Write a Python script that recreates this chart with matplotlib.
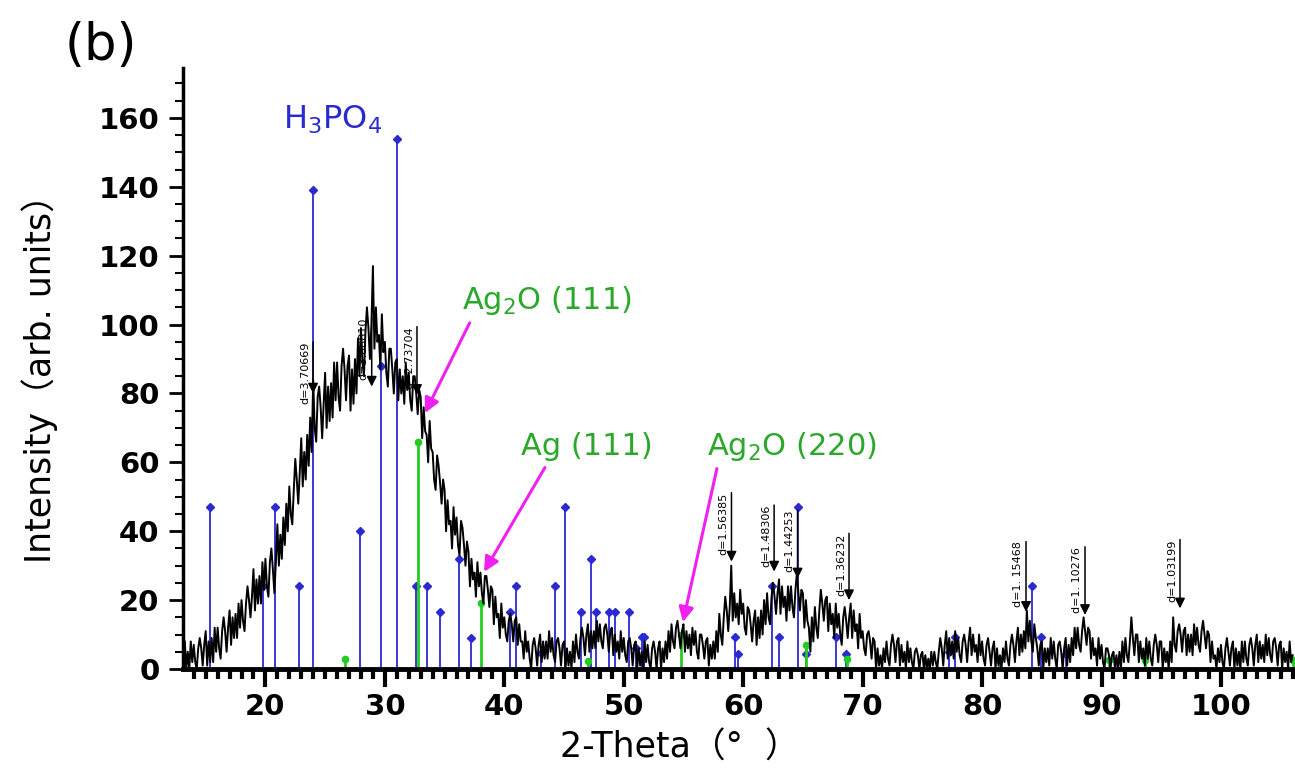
import matplotlib
matplotlib.use('Agg')
import matplotlib.pyplot as plt
import numpy as np
from matplotlib.ticker import MultipleLocator

# ---------------- data ----------------
theta_start = 13.25
theta_step = 0.125
intensity = [
    8, 0,
    5, 0, 8, 2,   7, 2, 0, 6,   9, 6, 1, 7,          # 13.5 - 14.5
    11, 1, 8, 2,  9, 2, 12, 5,                       # 15
    12, 6, 3, 11, 15, 11, 5, 12,                     # 16
    17, 7, 15, 9, 16, 9, 19, 12,                     # 17
    20, 14, 11, 19, 24, 20, 15, 21,                  # 18
    29, 17, 26, 19, 27, 19, 31, 23,                  # 19
    32, 24, 21, 31, 35, 29, 22, 31,                  # 20
    42, 30, 39, 32, 44, 36, 48, 40,                  # 21
    53, 45, 42, 52, 61, 55, 48, 57,                  # 22
    67, 53, 63, 55, 68, 59, 73, 63,                  # 23
    84, 70, 66, 79, 82, 76, 67, 77,                  # 24
    86, 70, 82, 72, 83, 73, 89, 78,                  # 25
    89, 79, 75, 88, 93, 87, 78, 88,                  # 26
    91, 75, 87, 77, 90, 80, 96, 85,                  # 27
    99, 89, 85, 98, 105, 99, 90, 100,                # 28
    117, 93, 105, 95, 97, 87, 103, 92,               # 29
    95, 86, 82, 93, 93, 87, 80, 89,                  # 30
    90, 78, 87, 80, 85, 77, 89, 81,                  # 31
    86, 78, 75, 85, 85, 80, 74, 81,                  # 32
    79, 67, 76, 69, 68, 60, 72, 64,                  # 33
    63, 55, 52, 62, 59, 54, 48, 55,                  # 34
    52, 40, 49, 42, 43, 35, 47, 39,                  # 35
    44, 36, 33, 43, 41, 36, 30, 37,                  # 36
    34, 24, 32, 26, 28, 21, 31, 24,                  # 37
    28, 22, 19, 27, 27, 23, 18, 24,                  # 38
    23, 13, 21, 15, 16, 9, 19, 12,                   # 39
    15, 10, 8, 14, 16, 13, 8, 14,                    # 40
    15, 7, 13, 8, 8, 3, 11, 5,                       # 41
    8, 3, 0, 7, 9, 6, 1, 7,                          # 42
    10, 2, 8, 3, 8, 3, 11, 5,                        # 43
    9, 4, 2, 8, 9, 6, 1, 7,                          # 44
    8, 0, 6, 1, 5, 0, 8, 2,                          # 45
    10, 5, 3, 9, 12, 9, 4, 10,                       # 46
    13, 5, 11, 6, 11, 6, 14, 8,                      # 47
    13, 8, 6, 12, 13, 10, 5, 11,                     # 48
    12, 4, 10, 5, 8, 3, 11, 5,                       # 49
    9, 4, 2, 8, 9, 6, 1, 7,                          # 50
    8, 0, 6, 1, 5, 0, 8, 2,                          # 51
    7, 2, 0, 6, 8, 5, 0, 6,                          # 52
    8, 0, 6, 2, 8, 3, 11, 5,                         # 53
    13, 8, 6, 12, 14, 10, 6, 11,                     # 54
    13, 5, 11, 6, 10, 4, 12, 7,                      # 55
    11, 5, 3, 10, 10, 7, 3, 8,                       # 56
    9, 1, 7, 3, 8, 3, 11, 5,                         # 57
    16, 10, 7, 15, 21, 17, 11, 18,                   # 58
    30, 14, 22, 15, 19, 13, 23, 16,                  # 59
    19, 12, 10, 18, 17, 13, 8, 14,                   # 60
    17, 7, 15, 9, 17, 10, 20, 13,                    # 61
    22, 15, 13, 21, 25, 21, 16, 22,                  # 62
    26, 16, 24, 18, 21, 14, 24, 17,                  # 63
    24, 18, 15, 23, 28, 22, 17, 23,                  # 64
    22, 12, 20, 14, 12, 5, 15, 8,                    # 65
    18, 12, 9, 17, 23, 19, 14, 20,                   # 66
    21, 11, 19, 13, 16, 9, 19, 12,                   # 67
    16, 10, 7, 15, 18, 14, 9, 15,                    # 68
    19, 9, 17, 11, 13, 6, 16, 9,                     # 69
    11, 6, 4, 10, 11, 8, 3, 9,                       # 70
    8, 0, 6, 1, 4, 0, 6, 2,                          # 71
    8, 3, 1, 7, 10, 7, 2, 8,                         # 72
    9, 1, 7, 2, 5, 0, 8, 2,                          # 73
    6, 2, 0, 5, 6, 4, 0, 4,                          # 74
    5, 0, 4, 0, 3, 0, 5, 1,                          # 75
    5, 2, 0, 5, 9, 6, 1, 7,                          # 76
    11, 3, 9, 4, 8, 3, 11, 5,                        # 77
    9, 4, 2, 8, 10, 7, 2, 8,                         # 78
    12, 4, 10, 5, 7, 2, 10, 4,                       # 79
    8, 3, 1, 7, 9, 5, 1, 6,                          # 80
    8, 0, 6, 1, 4, 0, 6, 2,                          # 81
    8, 3, 1, 7, 10, 7, 2, 8,                         # 82
    12, 4, 10, 5, 11, 6, 17, 8,                      # 83
    14, 8, 5, 13, 9, 6, 1, 7,                        # 84
    8, 0, 6, 2, 6, 1, 9, 3,                          # 85
    8, 3, 0, 7, 8, 5, 0, 6,                          # 86
    9, 1, 7, 2, 9, 4, 12, 6,                         # 87
    12, 7, 5, 11, 15, 11, 7, 12,                     # 88
    11, 3, 9, 4, 6, 1, 9, 3,                         # 89
    7, 2, 0, 6, 6, 4, 0, 4,                          # 90
    5, 0, 4, 0, 5, 0, 8, 2,                          # 91
    9, 4, 2, 8, 15, 9, 4, 10,                        # 92
    10, 2, 8, 3, 6, 1, 9, 3,                         # 93
    8, 3, 1, 7, 10, 7, 2, 8,                         # 94
    8, 0, 6, 2, 5, 0, 8, 2,                          # 95
    15, 7, 5, 11, 13, 10, 5, 11,                     # 96
    12, 4, 10, 5, 10, 4, 13, 7,                      # 97
    12, 7, 5, 11, 14, 10, 6, 11,                     # 98
    10, 2, 8, 3, 4, 0, 6, 2,                         # 99
    7, 2, 0, 6, 9, 5, 1, 6,                          # 100
    8, 0, 6, 1, 5, 0, 8, 2,                          # 101
    8, 3, 1, 7, 9, 6, 1, 7,                          # 102
    10, 2, 8, 3, 7, 2, 10, 4,                        # 103
    9, 4, 2, 8, 9, 6, 1, 7,                          # 104
    8, 0, 6, 2, 5, 0, 8, 2,                          # 105
    4,                                               # 106
]

h3po4_pos = [15.4, 19.8, 20.8, 22.8, 24.0, 27.9, 29.7, 31.0, 32.57, 33.5, 34.6,
             36.2, 37.25, 40.5, 40.95, 43.1, 44.25, 45.1, 46.45, 47.3, 47.7,
             48.8, 49.3, 50.45, 51.06, 51.55, 51.7, 59.35, 59.6, 62.4, 63.03,
             64.6, 65.3, 67.74, 68.64, 77.2, 77.7, 84.17, 84.95, 87.05]
h3po4_int = [47, 24, 47, 24, 139, 40, 88, 154, 24, 24, 16.5,
             32, 9, 16.5, 24, 4.7, 24, 47, 16.5, 32, 16.5,
             16.5, 16.5, 16.5, 6, 9.4, 9.4, 9.4, 4.5, 24, 9.4,
             47, 4.5, 9.4, 4.5, 5, 9.4, 24, 9.4, 4.5]

ag_pos = [26.63, 32.76, 38.06, 47.0, 54.83, 65.3, 68.7, 81.4, 90.6, 93.6, 106.0]
ag_int = [3, 66, 19.3, 2.3, 10, 7, 3, 2.5, 2.5, 2.5, 2.5]

d_pos = [23.99, 28.9, 32.69, 59.02, 62.59, 64.55, 68.86, 83.68, 88.62, 96.57]
d_top = [95, 102, 99.4, 51.2, 47.6, 46.2, 39.4, 37, 35.5, 37.6]
d_tip = [80, 82, 79.6, 31.2, 28.3, 26.3, 20, 16.6, 15.7, 17.6]
d_labels = ["d=3.70669", "d=3.08810", "d=2.73704", "d=1.56385", "d=1.48306",
            "d=1.44253", "d=1.36232", "d=1. 15468", "d=1. 10276", "d=1.03199"]

phase_labels = ["Ag$_2$O (111)", "Ag (111)", "Ag$_2$O (220)"]
phase_text_pos = [(36.5, 104.5), (41.4, 62), (56.95, 62)]
phase_arrow_tail = [(37.1, 100.5), (43.4, 58.5), (57.8, 58.2)]
phase_arrow_tip = [(33.35, 74.3), (38.3, 28.2), (54.95, 13.6)]

x_major_ticks = [20, 30, 40, 50, 60, 70, 80, 90, 100]
y_major_ticks = [0, 20, 40, 60, 80, 100, 120, 140, 160]

# ---------------- plot ----------------
fig = plt.figure(figsize=(12.95, 7.75), dpi=100)
ax = fig.add_axes([183 / 1295, 1 - 669 / 775, 1 - 183 / 1295, (669 - 68) / 775])

two_theta = theta_start + theta_step * np.arange(len(intensity))

blue = '#2a2ad0'
green = '#22cc22'
label_green = '#2aa82a'
magenta = '#f020f0'

ax.vlines(h3po4_pos, 0, h3po4_int, color=blue, lw=1.3, zorder=2)
ax.plot(h3po4_pos, h3po4_int, 'D', color=blue, ms=4, zorder=2)
ax.vlines(ag_pos, 0, ag_int, color=green, lw=2.0, zorder=2)
ax.plot(ag_pos, ag_int, 'o', color=green, ms=4.5, zorder=2)

ax.plot(two_theta, intensity, color='black', lw=1.4, zorder=3)

for x, yt, yb, lab in zip(d_pos, d_top, d_tip, d_labels):
    ax.annotate('', xy=(x, yb), xytext=(x, yt),
                arrowprops=dict(arrowstyle='-|>', color='black', lw=1.1,
                                mutation_scale=15, shrinkA=0, shrinkB=0),
                zorder=4)
    ax.text(x - 0.25, yt, lab, rotation=90, ha='right', va='top',
            fontsize=8, color='black', zorder=4)

for lab, (tx, ty) in zip(phase_labels, phase_text_pos):
    ax.text(tx, ty, lab, color=label_green, fontsize=22, ha='left', va='baseline')
for tail, tip in zip(phase_arrow_tail, phase_arrow_tip):
    ax.annotate('', xy=tip, xytext=tail,
                arrowprops=dict(arrowstyle='-|>', color=magenta, lw=2.2,
                                mutation_scale=22, shrinkA=0, shrinkB=0),
                zorder=5)

ax.text(25.6, 157, "H$_3$PO$_4$", color=blue, fontsize=23, ha='center', va='baseline')

ax.set_xlim(13.1, 106.2)
ax.set_ylim(0, 174.5)
ax.set_xticks(x_major_ticks)
ax.set_yticks(y_major_ticks)
ax.xaxis.set_minor_locator(MultipleLocator(1))
ax.yaxis.set_minor_locator(MultipleLocator(5))

for s in ['top', 'right']:
    ax.spines[s].set_visible(False)
ax.spines['left'].set_linewidth(2.5)
ax.spines['bottom'].set_linewidth(3.5)

ax.tick_params(axis='x', which='major', direction='out', length=13, width=3, pad=4)
ax.tick_params(axis='x', which='minor', direction='out', length=7, width=3)
ax.tick_params(axis='y', which='major', direction='out', length=10, width=2, pad=7)
ax.tick_params(axis='y', which='minor', direction='out', length=6, width=1.5)
for lab in ax.get_xticklabels() + ax.get_yticklabels():
    lab.set_fontsize(21)
    lab.set_fontweight('bold')

fig.text(680 / 1295, 1 - 748 / 775, "2-Theta（°  ）", fontsize=25,
         family=['DejaVu Sans', 'Noto Sans CJK SC'], ha='center', va='center')
fig.text(40 / 1295, 1 - 370 / 775, "Intensity（arb. units）", fontsize=25,
         family=['DejaVu Sans', 'Noto Sans CJK SC'], rotation=90,
         ha='center', va='center')
fig.text(65 / 1295, 1 - 60 / 775, "(b)", fontsize=37, ha='left', va='baseline')

fig.savefig('out.png', dpi=100)
